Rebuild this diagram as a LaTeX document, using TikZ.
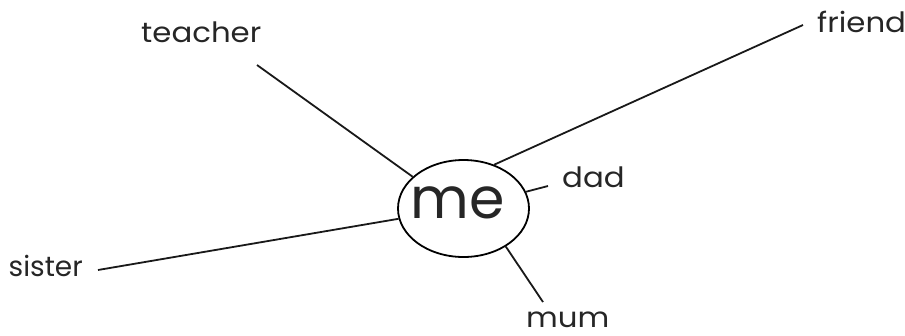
\documentclass[tikz,border=0pt]{standalone}
\usepackage{fontspec}
\setmainfont{Poppins}
\newfontfamily\lblfont[FakeStretch=1.1]{Poppins}
\usetikzlibrary{shapes.geometric}
\begin{document}
\begin{tikzpicture}[x=1pt,y=-1pt,
  lbl/.style={anchor=base west,inner sep=0pt,font=\lblfont\fontsize{28}{30}\selectfont,text=black!85},
  link/.style={line width=1.8pt,black!90},
  centre/.style={draw,ellipse,line width=1.8pt,minimum width=131pt,minimum height=97pt,inner sep=0pt}]
\useasboundingbox (0,0) rectangle (905,335);
\node[centre] (me) at (463.5,208.5) {};
\node[anchor=base,inner sep=0pt,font=\fontsize{57}{60}\selectfont,text=black!85] (metext) at (457.5,218) {me};
\node[lbl] (teacher) at (141,42) {teacher};
\node[lbl] (friend) at (817,32) {friend};
\node[lbl] (dad) at (562,187) {dad};
\node[lbl] (mum) at (526,327) {mum};
\node[lbl,anchor=base east,font=\fontsize{28}{30}\selectfont] (sister) at (83,276) {sister};
\coordinate (tEnd) at (257,65);
\coordinate (fEnd) at (803,25);
\coordinate (dEnd) at (548,186);
\coordinate (mEnd) at (543,302);
\coordinate (sEnd) at (98,270);
\draw[link] (me.148.5) -- (tEnd);
\draw[link] (me.55.2) -- (fEnd);
\draw[link] (me.15.9) -- (dEnd);
\draw[link] (me.-42.8) -- (mEnd);
\draw[link] (me.189.1) -- (sEnd);
\end{tikzpicture}
\end{document}
